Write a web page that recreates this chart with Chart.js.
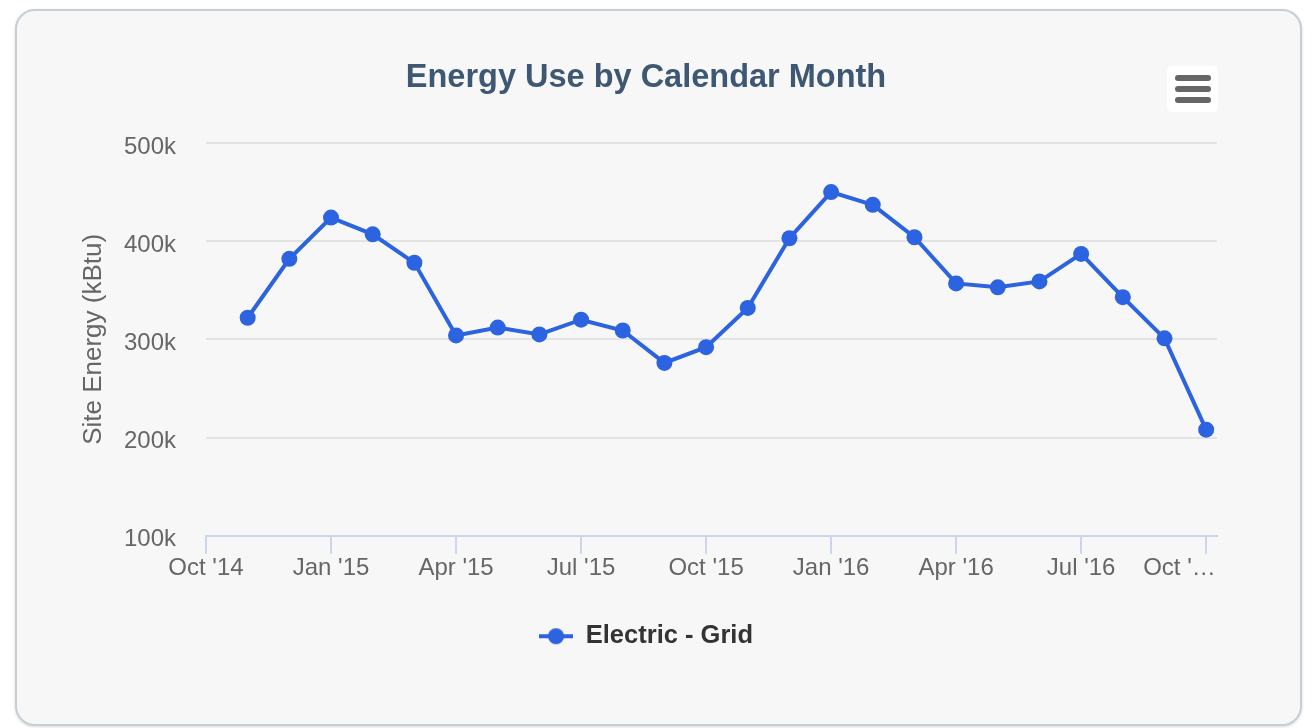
<!DOCTYPE html>
<html>
<head>
<meta charset="utf-8">
<script src="https://cdn.jsdelivr.net/npm/chart.js@4"></script>
<style>
  html, body { margin: 0; padding: 0; background: #ffffff; }
  body { width: 1312px; height: 728px; position: relative; overflow: hidden; }
  .card {
    position: absolute; left: 15px; top: 9px; width: 1283px; height: 713px;
    border: 2px solid #c5cfd6; border-radius: 20px; background: #f7f7f7;
    box-shadow: 0 1px 3px rgba(0,0,0,0.15);
  }
  .menu {
    position: absolute; left: 1167px; top: 66px; width: 51px; height: 46px;
    background: #ffffff; border-radius: 5px;
  }
  .menu span {
    position: absolute; left: 8px; width: 36px; height: 6px; border-radius: 3px; background: #666666;
  }
  #wrap { position: absolute; left: 0; top: 0; width: 1312px; height: 728px; }
</style>
</head>
<body>
<div class="card"></div>
<div class="menu"><span style="top:9px"></span><span style="top:20px"></span><span style="top:31px"></span></div>
<div id="wrap"><canvas id="energyChart"></canvas></div>
<script>
// months counted from Oct '14
const monthIndex = [1, 2, 3, 4, 5, 6, 7, 8, 9, 10, 11, 12, 13, 14, 15, 16, 17, 18, 19, 20, 21, 22, 23, 24];
const siteEnergy = [322000, 382000, 424000, 407000, 378000, 304000, 312000, 305000, 320000, 309000, 276000, 292000,
                    332000, 403000, 450000, 437000, 404000, 357000, 353000, 359000, 387000, 343000, 301000, 208000];
// last label is cut off in the original, padded so it sits left of its tick
const tickLabels = ["Oct '14", "Jan '15", "Apr '15", "Jul '15", "Oct '15", "Jan '16", "Apr '16", "Jul '16", "Oct '\u2026        "];
const yTicks = [100000, 200000, 300000, 400000, 500000];

const blue = '#2b63e0';
const fontFamily = 'Liberation Sans, Arial, sans-serif';

function legendSymbol() {
    const c = document.createElement('canvas');
    c.width = 34;
    c.height = 18;
    const g = c.getContext('2d');
    g.strokeStyle = blue;
    g.lineWidth = 4;
    g.beginPath();
    g.moveTo(0, 9);
    g.lineTo(34, 9);
    g.stroke();
    g.fillStyle = blue;
    g.beginPath();
    g.arc(17, 9, 8, 0, Math.PI * 2);
    g.fill();
    return c;
}

const ctx = document.getElementById('energyChart').getContext('2d');
const symbol = legendSymbol();

new Chart(ctx, {
    type: 'line',
    data: {
        datasets: [{
            label: 'Electric - Grid',
            data: monthIndex.map((m, i) => ({ x: m, y: siteEnergy[i] })),
            borderColor: blue,
            backgroundColor: blue,
            borderWidth: 4,
            pointRadius: 8,
            pointHoverRadius: 8,
            pointBackgroundColor: blue,
            pointBorderWidth: 0,
            tension: 0,
            fill: false
        }]
    },
    options: {
        responsive: true,
        maintainAspectRatio: false,
        animation: false,
        layout: {
            padding: { left: 75, right: 95, top: 59, bottom: 69 }
        },
        plugins: {
            title: {
                display: true,
                text: 'Energy Use by Calendar Month',
                color: '#3e5873',
                font: { family: fontFamily, size: 32.5, weight: 'bold' },
                padding: { top: 0, bottom: 45 }
            },
            legend: {
                position: 'bottom',
                labels: {
                    color: '#333333',
                    font: { family: fontFamily, size: 25.5, weight: 'bold' },
                    usePointStyle: true,
                    pointStyleWidth: 34,
                    boxHeight: 18,
                    padding: 41,
                    generateLabels: (chart) => [{
                        text: chart.data.datasets[0].label,
                        pointStyle: symbol,
                        fillStyle: blue,
                        strokeStyle: blue,
                        lineWidth: 0,
                        datasetIndex: 0,
                        fontColor: '#333333'
                    }]
                }
            },
            tooltip: { enabled: false }
        },
        scales: {
            x: {
                type: 'linear',
                min: 0,
                max: 24.26,
                afterBuildTicks: (scale) => {
                    scale.ticks = tickLabels.map((t, i) => ({ value: i * 3 }));
                },
                ticks: {
                    color: '#666666',
                    font: { family: fontFamily, size: 24 },
                    padding: 0,
                    maxRotation: 0,
                    autoSkip: false,
                    callback: (v) => tickLabels[Math.round(v / 3)]
                },
                grid: {
                    drawOnChartArea: false,
                    drawTicks: true,
                    tickLength: 18,
                    color: '#ccd6eb',
                    lineWidth: 2
                },
                border: { display: true, color: '#ccd6eb', width: 2 }
            },
            y: {
                min: 100000,
                max: 500000,
                afterBuildTicks: (scale) => {
                    scale.ticks = yTicks.map(v => ({ value: v }));
                },
                afterFit: (scale) => { scale.width = 131; },
                title: {
                    display: true,
                    text: 'Site Energy (kBtu)',
                    color: '#666666',
                    font: { family: fontFamily, size: 26 },
                    padding: { top: 3, bottom: 0 }
                },
                ticks: {
                    color: '#666666',
                    font: { family: fontFamily, size: 24 },
                    padding: 30,
                    labelOffset: 4,
                    callback: (v) => (v / 1000) + 'k'
                },
                grid: {
                    drawTicks: false,
                    color: '#e3e3e3',
                    lineWidth: 2
                },
                border: { display: false }
            }
        }
    }
});
</script>
</body>
</html>
